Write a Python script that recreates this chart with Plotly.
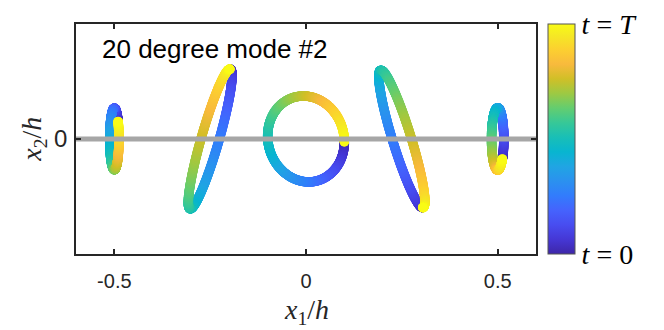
import numpy as np
import plotly.graph_objects as go

# particle orbits, in units of h (one entry per particle)
center_x = [-0.5, -0.25, 0.0, 0.25, 0.5]
center_y = [0.0, 0.0, 0.0, 0.0, 0.0]
amp_x = [0.012, 0.057, 0.100, 0.060, 0.016]
amp_y = [0.080, 0.182, 0.112, 0.179, 0.081]
phase_x = [35, -25, 0, 25, -40]  # degrees
phase_y = [-55, 0, 94, 180, -130]

x_ticks = [-0.5, 0, 0.5]
x_tick_labels = ["-0.5", "0", "0.5"]
y_ticks = [0]
y_tick_labels = ["0"]
cbar_ticks = [0, 1]
cbar_labels = ["<i>t</i> = 0", "<i>t</i> = <i>T</i>"]
title_text = "20 degree mode #2"

# MATLAB parula, sampled
parula = [
    [0.000, "#3e26a8"], [0.063, "#4537d5"], [0.127, "#484df0"], [0.190, "#4563fd"],
    [0.254, "#327cfc"], [0.317, "#2b91ef"], [0.381, "#20a5e3"], [0.444, "#08b5d0"],
    [0.508, "#19bfb6"], [0.571, "#37c897"], [0.635, "#64cd6f"], [0.698, "#9dc943"],
    [0.762, "#d1bf27"], [0.825, "#f8ba3d"], [0.889, "#fcd030"], [0.952, "#f5e924"],
    [1.000, "#f9fb15"],
]

SERIF = "Liberation Serif"
SANS = "Liberation Sans"
AX_COLOR = "#262626"

t = np.linspace(0, 1, 600)
fig = go.Figure()
for cx, cy, ax, ay, px, py in zip(center_x, center_y, amp_x, amp_y, phase_x, phase_y):
    xs = cx + ax * np.cos(2 * np.pi * t + np.radians(px))
    ys = cy + ay * np.cos(2 * np.pi * t + np.radians(py))
    fig.add_trace(go.Scatter(
        x=xs, y=ys, mode="markers",
        marker=dict(size=9.5, color=t, coloraxis="coloraxis", line=dict(width=0)),
        hoverinfo="skip", showlegend=False,
    ))

# horizontal reference line at x2 = 0, on top of the orbits
fig.add_trace(go.Scatter(
    x=[-0.6, 0.6], y=[0, 0], mode="lines",
    line=dict(color="#a6a6a6", width=5), hoverinfo="skip", showlegend=False,
))

fig.update_layout(
    width=664, height=330,
    margin=dict(l=76, r=128, t=24, b=76, autoexpand=False),
    paper_bgcolor="white", plot_bgcolor="white",
    showlegend=False,
    coloraxis=dict(
        colorscale=parula, cmin=0, cmax=1,
        colorbar=dict(
            x=1.026, xanchor="left", xpad=0, ypad=0,
            y=0.5, yanchor="middle", len=1, lenmode="fraction",
            thickness=27, thicknessmode="pixels",
            outlinewidth=1, outlinecolor="#555555",
            tickvals=cbar_ticks, ticktext=cbar_labels, ticks="",
            tickfont=dict(family=SERIF, size=28, color="black"),
        ),
    ),
    annotations=[
        dict(text=title_text, xref="paper", yref="paper", x=0.052, y=0.89,
             xanchor="left", yanchor="middle", showarrow=False,
             font=dict(family=SANS, size=26, color="black")),
        dict(text="<i>x</i><sub>1</sub>/<i>h</i>", xref="paper", yref="paper",
             x=0.5, y=-0.25, xanchor="center", yanchor="middle", showarrow=False,
             font=dict(family=SERIF, size=28, color=AX_COLOR)),
        dict(text="<i>x</i><sub>2</sub>/<i>h</i>", xref="paper", yref="paper",
             x=-0.094, y=0.5, xanchor="center", yanchor="middle", showarrow=False,
             textangle=-90, font=dict(family=SERIF, size=28, color=AX_COLOR)),
    ],
)
fig.update_xaxes(
    range=[-0.6, 0.6], tickvals=x_ticks, ticktext=x_tick_labels,
    showgrid=False, zeroline=False, showline=True, mirror="ticks",
    linecolor=AX_COLOR, linewidth=1.5, ticks="inside", ticklen=5,
    tickcolor=AX_COLOR, tickwidth=1.5, ticklabelstandoff=8, automargin=False,
    tickfont=dict(family=SANS, size=20, color=AX_COLOR),
)
fig.update_yaxes(
    range=[-0.3, 0.3], tickvals=y_ticks, ticktext=y_tick_labels,
    showgrid=False, zeroline=False, showline=True, mirror="ticks",
    linecolor=AX_COLOR, linewidth=1.5, ticks="inside", ticklen=5,
    tickcolor=AX_COLOR, tickwidth=1.5, ticklabelstandoff=2, automargin=False,
    tickfont=dict(family=SANS, size=24, color=AX_COLOR),
)

fig.write_html(
    "out.html",
    config={"displayModeBar": False},
    post_script="document.body.style.margin='0';",
)
